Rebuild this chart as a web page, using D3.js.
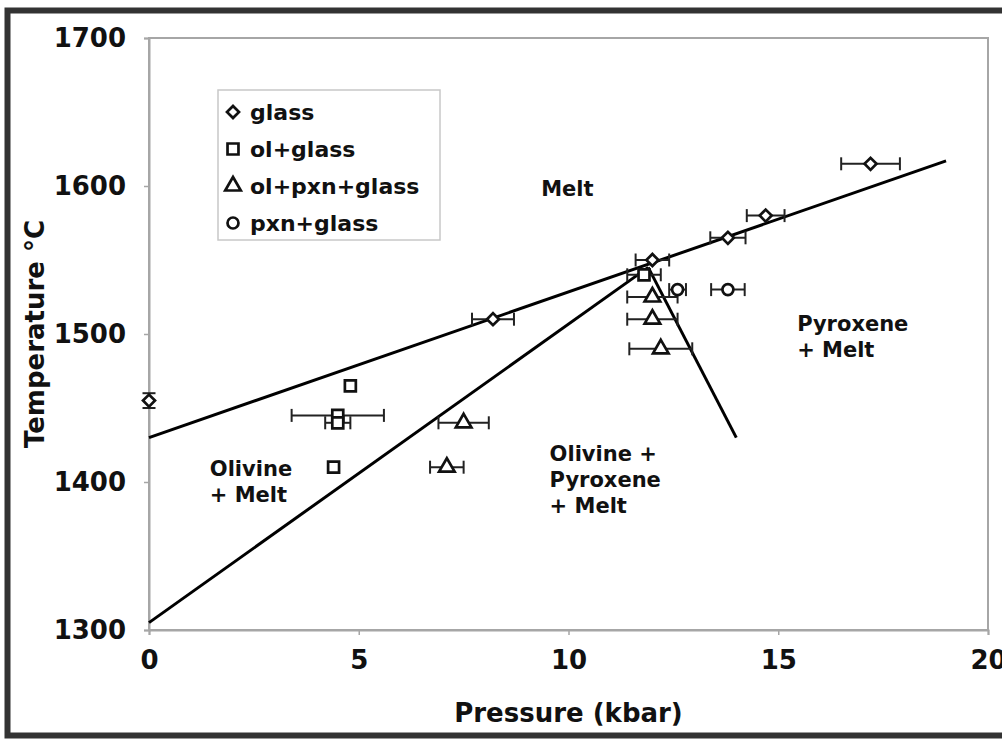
<!DOCTYPE html>
<html><head><meta charset="utf-8">
<script src="https://cdn.jsdelivr.net/npm/d3@7"></script>
<style>body{margin:0;background:#fff}svg{display:block}text{font-family:"DejaVu Sans",Verdana,sans-serif;font-weight:bold;fill:#111}</style>
</head><body><svg id="c" width="1002" height="740"></svg>
<script>
// ---- data ----
const xTicks = [0, 5, 10, 15, 20];
const yTicks = [1300, 1400, 1500, 1600, 1700];
const seriesNames = ["glass", "ol+glass", "ol+pxn+glass", "pxn+glass"];
// [pressure kbar, temperature C, x error, y error]
const glass = [[0,1455,0,5],[8.2,1510,0.5,0],[12,1550,0.4,0],[13.8,1565,0.42,0],[14.7,1580,0.45,0],[17.2,1615,0.7,0]];
const olGlass = [[4.8,1465,0,0],[4.5,1445,1.1,0],[4.5,1440,0.3,0],[4.4,1410,0,0],[11.8,1540,0.4,0]];
const olPxnGlass = [[7.5,1440,0.6,0],[7.1,1410,0.4,0],[12,1525,0.6,0],[12,1510,0.6,0],[12.2,1490,0.75,0]];
const pxnGlass = [[12.6,1530,0.2,0],[13.8,1530,0.4,0]];
const boundaries = [
  [[0,1430],[19,1617]],
  [[0,1305],[11.9,1545]],
  [[11.9,1545],[14,1430]]
];
const fieldLabels = [
  {lines:["Melt"], p:9.35, t:1593},
  {lines:["Pyroxene","+ Melt"], p:15.45, t:1502},
  {lines:["Olivine","+ Melt"], p:1.45, t:1404},
  {lines:["Olivine +","Pyroxene","+ Melt"], p:9.55, t:1414}
];
// ---- chart ----
const svg = d3.select("#c");
const x = d3.scaleLinear().domain([0,20]).range([149,988]);
const y = d3.scaleLinear().domain([1300,1700]).range([630,38]);

// outer frame
svg.append("rect").attr("x",7.5).attr("y",10.5).attr("width",1100).attr("height",725)
  .attr("fill","none").attr("stroke","#333").attr("stroke-width",6);

// plot area border
svg.append("rect").attr("x",x(0)).attr("y",y(1700)).attr("width",x(20)-x(0)).attr("height",y(1300)-y(1700))
  .attr("fill","none").attr("stroke","#a6a6a6").attr("stroke-width",2);

const xAxis = svg.append("g").attr("transform",`translate(0,${y(1300)})`)
  .call(d3.axisBottom(x).tickValues(xTicks).tickFormat(d3.format("d")).tickSize(5).tickPadding(16));
const yAxis = svg.append("g").attr("transform",`translate(${x(0)},0)`)
  .call(d3.axisLeft(y).tickValues(yTicks).tickFormat(d3.format("d")).tickSize(5).tickPadding(18));
[xAxis,yAxis].forEach(g=>{
  g.select(".domain").attr("stroke","#a6a6a6").attr("stroke-width",2);
  g.selectAll(".tick line").attr("stroke","#a6a6a6").attr("stroke-width",1.5);
  g.selectAll(".tick text").style("font-size","26px").style("font-family","'DejaVu Sans',sans-serif").style("font-weight","bold").attr("fill","#111");
});

svg.append("text").attr("x",(x(0)+x(20))/2).attr("y",722).attr("text-anchor","middle")
  .style("font-size","26px").text("Pressure (kbar)");
svg.append("text").attr("transform",`translate(44,${(y(1300)+y(1700))/2}) rotate(-90)`).attr("text-anchor","middle")
  .style("font-size","26px").text("Temperature °C");

// boundary lines
const line = d3.line().x(d=>x(d[0])).y(d=>y(d[1]));
boundaries.forEach(b=>svg.append("path").attr("d",line(b)).attr("fill","none").attr("stroke","#000").attr("stroke-width",3));

// field labels
fieldLabels.forEach(f=>{
  const t = svg.append("text").attr("x",x(f.p)).attr("y",y(f.t)).style("font-size","21px");
  f.lines.forEach((s,i)=>t.append("tspan").attr("x",x(f.p)).attr("dy",i?26:0).text(s));
});

// markers
const shapes = [d3.symbolSquare, d3.symbolSquare, d3.symbolTriangle, d3.symbolCircle];
const sizes = [72, 120, 105, 95];
const allSeries = [glass, olGlass, olPxnGlass, pxnGlass];
function marker(g, i, cx, cy){
  g.append("path").attr("d",d3.symbol(shapes[i],sizes[i])())
    .attr("transform",`translate(${cx},${cy})`+(i===0?" rotate(45)":""))
    .attr("fill","#fff").attr("stroke","#111").attr("stroke-width",2.7);
}
allSeries.forEach((ser,i)=>{
  const g = svg.append("g");
  ser.forEach(d=>{
    const cx=x(d[0]), cy=y(d[1]);
    if(d[2]>0){
      const x1=x(d[0]-d[2]), x2=x(d[0]+d[2]);
      g.append("line").attr("x1",x1).attr("x2",x2).attr("y1",cy).attr("y2",cy).attr("stroke","#222").attr("stroke-width",2);
      [x1,x2].forEach(xx=>g.append("line").attr("x1",xx).attr("x2",xx).attr("y1",cy-6.5).attr("y2",cy+6.5).attr("stroke","#222").attr("stroke-width",2));
    }
    if(d[3]>0){
      const y1=y(d[1]-d[3]), y2=y(d[1]+d[3]);
      g.append("line").attr("x1",cx).attr("x2",cx).attr("y1",y1).attr("y2",y2).attr("stroke","#222").attr("stroke-width",2);
      [y1,y2].forEach(yy=>g.append("line").attr("x1",cx-6.5).attr("x2",cx+6.5).attr("y1",yy).attr("y2",yy).attr("stroke","#222").attr("stroke-width",2));
    }
    marker(g,i,cx,cy);
  });
});

// legend
const lg = svg.append("g");
lg.append("rect").attr("x",218).attr("y",90).attr("width",222).attr("height",150)
  .attr("fill","#fff").attr("stroke","#c8c8c8").attr("stroke-width",1.5);
seriesNames.forEach((n,i)=>{
  const cy = 112 + i*37;
  marker(lg,i,233,cy);
  lg.append("text").attr("x",250).attr("y",cy).attr("dy","0.35em").style("font-size","22px").text(n);
});
</script></body></html>
